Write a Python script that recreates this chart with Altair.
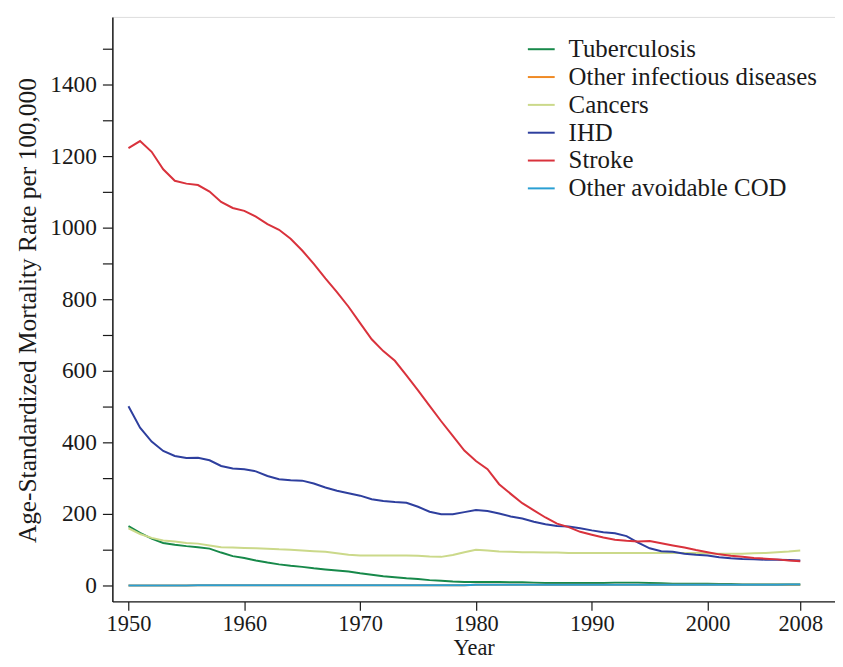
import altair as alt
import pandas as pd

years = list(range(1950, 2009))

tuberculosis = [166, 147, 131, 119, 114, 110, 107, 103, 92, 82,
                77, 70, 64, 59, 55, 52, 48, 45, 42, 39,
                34, 30, 26, 23, 20, 18, 15, 13, 11, 10,
                10, 10, 10, 9, 9, 8, 7, 7, 7, 7,
                7, 7, 8, 8, 8, 7, 6, 5, 5, 5,
                5, 4, 4, 3, 3, 3, 3, 3, 3]

other_infectious = [0, 0, 0, 0, 0, 0, 1, 1, 1, 1,
                    1, 1, 1, 1, 1, 1, 1, 1, 1, 1,
                    1, 1, 1, 1, 1, 1, 1, 1, 1, 1,
                    2, 2, 2, 2, 2, 2, 2, 2, 2, 2,
                    2, 2, 2, 2, 2, 2, 2, 2, 2, 2,
                    2, 2, 2, 2, 2, 2, 2, 2, 2]

cancers = [160, 144, 133, 126, 123, 119, 117, 112, 107, 106,
           105, 104, 103, 101, 100, 98, 96, 94, 90, 86,
           84, 84, 84, 84, 84, 83, 81, 80, 85, 93,
           100, 98, 95, 94, 93, 93, 92, 92, 91, 91,
           91, 91, 91, 91, 91, 91, 91, 91, 91, 91,
           90, 89, 89, 89, 90, 91, 93, 95, 98]

ihd = [501, 441, 402, 376, 362, 356, 357, 350, 334, 327,
       325, 319, 306, 297, 294, 293, 285, 274, 265, 258,
       251, 241, 236, 233, 231, 220, 206, 199, 199, 205,
       211, 208, 201, 193, 187, 178, 171, 166, 165, 160,
       154, 149, 146, 138, 120, 104, 96, 94, 89, 86,
       84, 79, 76, 74, 73, 72, 72, 71, 70]

stroke = [1222, 1242, 1212, 1163, 1131, 1123, 1119, 1101, 1072, 1055,
          1047, 1031, 1010, 994, 969, 936, 899, 858, 820, 779,
          733, 688, 655, 628, 587, 545, 502, 459, 418, 377,
          348, 325, 283, 256, 230, 210, 190, 173, 163, 150,
          142, 134, 128, 125, 123, 124, 118, 112, 106, 99,
          93, 87, 83, 80, 77, 75, 73, 70, 68]

other_avoidable = [0, 0, 0, 0, 0, 0, 1, 1, 1, 1,
                   1, 1, 1, 1, 1, 1, 1, 1, 1, 1,
                   1, 1, 1, 1, 1, 1, 1, 1, 1, 1,
                   2, 2, 2, 2, 2, 2, 2, 2, 2, 2,
                   2, 2, 2, 2, 2, 2, 2, 2, 2, 2,
                   2, 2, 2, 2, 2, 2, 2, 3, 3]

series_names = ["Tuberculosis", "Other infectious diseases", "Cancers",
                "IHD", "Stroke", "Other avoidable COD"]
series_values = [tuberculosis, other_infectious, cancers, ihd, stroke, other_avoidable]
series_colors = ["#17894a", "#f08a24", "#cbd98a", "#2e3f9e", "#d9323c", "#2a9fd3"]

x_ticks = [1950, 1960, 1970, 1980, 1990, 2000, 2008]
y_ticks = list(range(0, 1600, 100))

rows = []
for name, vals in zip(series_names, series_values):
    for yr, v in zip(years, vals):
        rows.append({"Year": yr, "Rate": v, "Series": name})
df = pd.DataFrame(rows)

FONT = "Liberation Serif"
INK = "#1a1a1a"

chart = alt.Chart(df).mark_line(strokeWidth=2, clip=True).encode(
    x=alt.X("Year:Q",
            scale=alt.Scale(domain=[1948.61, 2011.0], nice=False, zero=False),
            axis=alt.Axis(values=x_ticks, format="d", title="Year", grid=False,
                          labelFont=FONT, labelFontSize=22.5, labelColor=INK,
                          titleFont=FONT, titleFontSize=22.5, titleFontWeight="normal",
                          titleColor=INK, titleY=53, titleBaseline="alphabetic",
                          tickSize=9, tickColor=INK, domainColor=INK,
                          domainWidth=1.5, tickWidth=1.2, labelPadding=2)),
    y=alt.Y("Rate:Q",
            scale=alt.Scale(domain=[-44.4, 1588.9], nice=False, zero=False),
            axis=alt.Axis(values=y_ticks,
                          labelExpr="datum.value % 200 == 0 ? datum.label : ''",
                          format="d",
                          title="Age-Standardized Mortality Rate per 100,000",
                          grid=False,
                          labelFont=FONT, labelFontSize=23.5, labelColor=INK,
                          titleFont=FONT, titleFontSize=25.5, titleFontWeight="normal",
                          titleColor=INK, titleX=-85, titleY=295,
                          titleAngle=270, titleAlign="center", titleBaseline="middle",
                          tickSize=10, tickColor=INK, domainColor=INK,
                          domainWidth=1.5, tickWidth=1.2, labelPadding=6)),
    color=alt.Color("Series:N",
                    scale=alt.Scale(domain=series_names, range=series_colors),
                    legend=alt.Legend(title=None, orient="none",
                                      legendX=417, legendY=18,
                                      symbolType="stroke", symbolSize=729,
                                      symbolStrokeWidth=2,
                                      labelFont=FONT, labelFontSize=25,
                                      labelColor=INK, labelOffset=13,
                                      labelLimit=0,
                                      rowPadding=0, padding=0)),
).properties(
    width=727,
    height=588,
    autosize=alt.AutoSizeParams(type="none"),
    padding={"left": 105, "top": 7, "right": 0, "bottom": 56},
).configure_view(stroke=None).configure(background="white")

chart.save("out.html", embed_options={"renderer": "svg", "actions": False})
